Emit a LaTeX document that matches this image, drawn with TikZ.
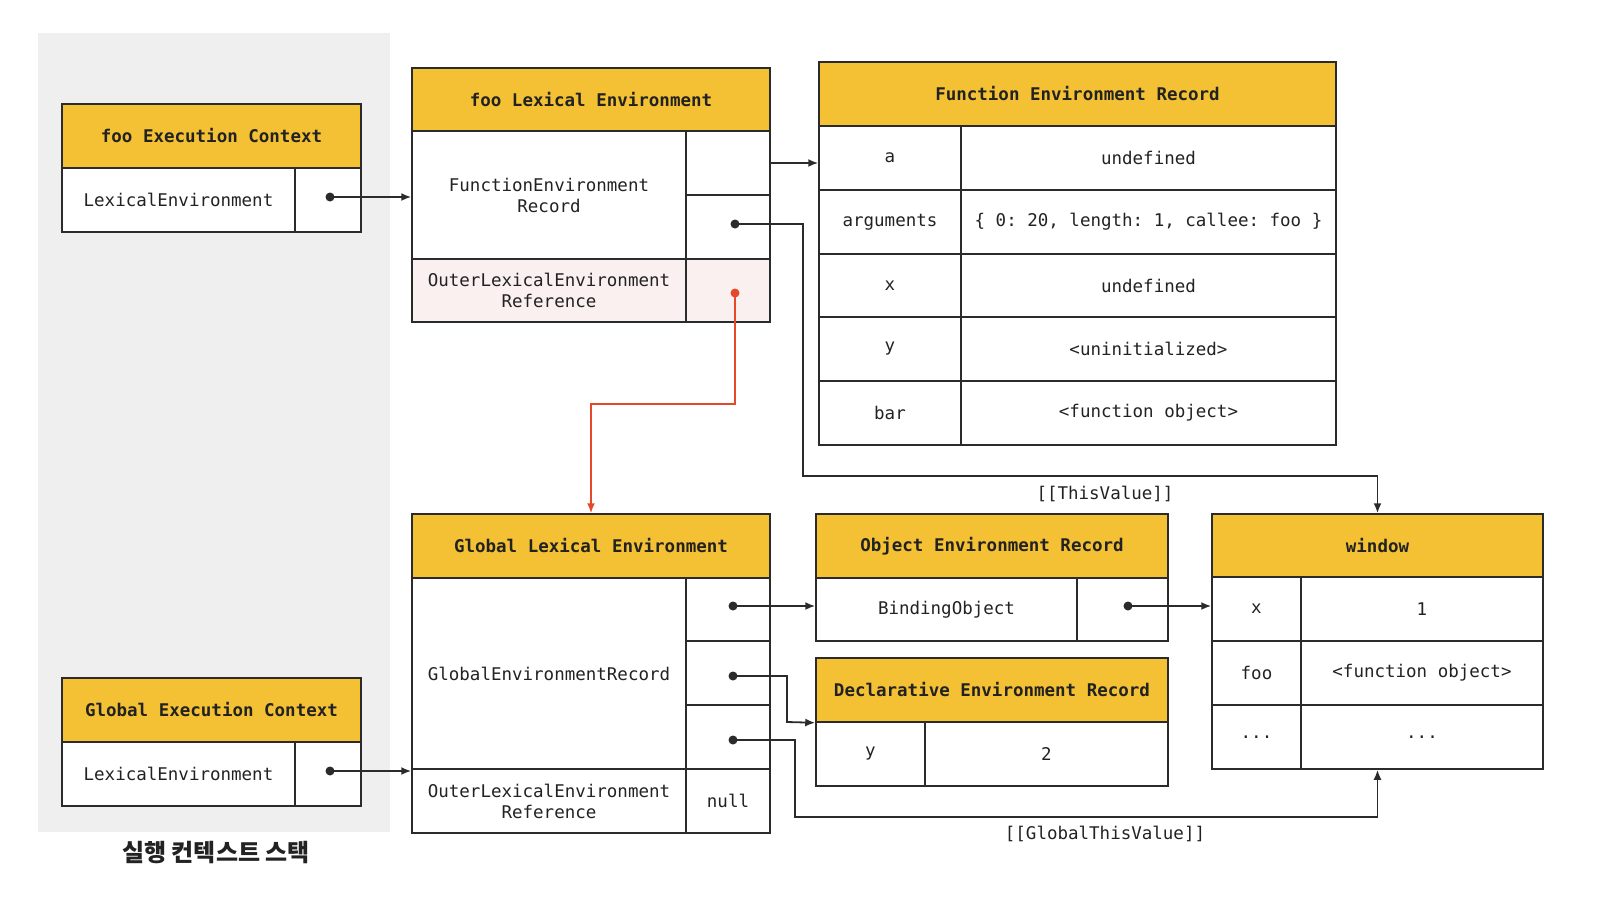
\documentclass[tikz,border=0pt]{standalone}
\usepackage{fontspec}
\setmonofont{DejaVu Sans Mono}
\newfontfamily\krfont{Noto Sans CJK KR}
\usetikzlibrary{arrows.meta}
\definecolor{hdr}{HTML}{F3C133}
\definecolor{ln}{HTML}{2B2B2B}
\definecolor{txt}{HTML}{222222}
\definecolor{bgg}{HTML}{EFEFEF}
\definecolor{pinkc}{HTML}{FAF0EF}
\definecolor{redl}{HTML}{E5482B}
\tikzset{
  cell/.style={draw=ln, line width=1.5pt, fill=white, rectangle, inner sep=0pt, align=center,
    text=txt, font=\ttfamily\fontsize{17.5}{21}\selectfont},
  hdrcell/.style={cell, fill=hdr, font=\ttfamily\bfseries\fontsize{17.5}{21}\selectfont},
  pinkcell/.style={cell, fill=pinkc},
  conn/.style={draw=ln, line width=1.8pt},
  arr/.style={conn, -{Latex[length=10pt,width=8pt]}},
  redarr/.style={draw=redl, line width=1.8pt, -{Latex[length=10pt,width=8pt]}},
  lbl/.style={text=txt, font=\ttfamily\fontsize{17.5}{21}\selectfont, inner sep=0pt}
}
\newcommand\cbox[7][]{\node[cell,#1,minimum width={#5-#3},minimum height={#6-#4}] (#2) at ({(#3+#5)/2},{(#4+#6)/2}) {#7};}
\begin{document}
\begin{tikzpicture}[x=1pt,y=-1pt]
\useasboundingbox (0,0) rectangle (1604,916);
\fill[bgg] (38,33) rectangle (390,832);
% foo Execution Context
\cbox[hdrcell]{fechdr}{62}{104}{361}{168}{foo Execution Context}
\cbox{fecle}{62}{168}{295}{232}{LexicalEnvironment}
\cbox{fecptr}{295}{168}{361}{232}{}
% Global Execution Context
\cbox[hdrcell]{gechdr}{62}{678}{361}{742}{Global Execution Context}
\cbox{gecle}{62}{742}{295}{806}{LexicalEnvironment}
\cbox{gecptr}{295}{742}{361}{806}{}
\node[text=txt, font=\krfont\bfseries\fontsize{24}{28}\selectfont, inner sep=0pt] (stack) at (216,853) {실행 컨텍스트 스택};
% foo Lexical Environment
\cbox[hdrcell]{flehdr}{412}{68}{770}{131}{foo Lexical Environment}
\cbox{flefer}{412}{131}{686}{259}{FunctionEnvironment\\Record}
\cbox{flea}{686}{131}{770}{195}{}
\cbox{fleb}{686}{195}{770}{259}{}
\cbox[pinkcell]{fleout}{412}{259}{686}{322}{OuterLexicalEnvironment\\Reference}
\cbox[pinkcell]{fleoutp}{686}{259}{770}{322}{}
% Function Environment Record
\cbox[hdrcell]{ferhdr}{819}{62}{1336}{126}{Function Environment Record}
\cbox{fera}{819}{126}{961}{190}{a}
\cbox{ferav}{961}{126}{1336}{190}{undefined}
\cbox{ferb}{819}{190}{961}{254}{arguments}
\cbox{ferbv}{961}{190}{1336}{254}{\{ 0: 20, length: 1, callee: foo \}}
\cbox{ferc}{819}{254}{961}{317}{x}
\cbox{fercv}{961}{254}{1336}{317}{undefined}
\cbox{ferd}{819}{317}{961}{381}{y}
\cbox{ferdv}{961}{317}{1336}{381}{<uninitialized>}
\cbox{fere}{819}{381}{961}{445}{bar}
\cbox{ferev}{961}{381}{1336}{445}{<function object>}
% Global Lexical Environment
\cbox[hdrcell]{glehdr}{412}{514}{770}{578}{Global Lexical Environment}
\cbox{gleger}{412}{578}{686}{769}{GlobalEnvironmentRecord}
\cbox{glea}{686}{578}{770}{641}{}
\cbox{gleb}{686}{641}{770}{705}{}
\cbox{glec}{686}{705}{770}{769}{}
\cbox{gleout}{412}{769}{686}{833}{OuterLexicalEnvironment\\Reference}
\cbox{glenull}{686}{769}{770}{833}{null}
% Object Environment Record
\cbox[hdrcell]{oerhdr}{816}{514}{1168}{578}{Object Environment Record}
\cbox{oerbind}{816}{578}{1077}{641}{BindingObject}
\cbox{oerptr}{1077}{578}{1168}{641}{}
% Declarative Environment Record
\cbox[hdrcell]{derhdr}{816}{658}{1168}{722}{Declarative Environment Record}
\cbox{dery}{816}{722}{925}{786}{y}
\cbox{deryv}{925}{722}{1168}{786}{2}
% window
\cbox[hdrcell]{winhdr}{1212}{514}{1543}{577}{window}
\cbox{winx}{1212}{577}{1301}{641}{x}
\cbox{winxv}{1301}{577}{1543}{641}{1}
\cbox{winf}{1212}{641}{1301}{705}{foo}
\cbox{winfv}{1301}{641}{1543}{705}{<function object>}
\cbox{wind}{1212}{705}{1301}{769}{...}
\cbox{windv}{1301}{705}{1543}{769}{...}
% labels
\node[lbl] (thisv) at (1105,494) {[[ThisValue]]};
\node[lbl] (gthisv) at (1105,834) {[[GlobalThisValue]]};
% dots
\coordinate (d1) at (330,197);
\coordinate (d2) at (330,771);
\coordinate (d3) at (735,224);
\coordinate (rd) at (735,293);
\coordinate (g1) at (733,606);
\coordinate (g2) at (733,676);
\coordinate (g3) at (733,740);
\coordinate (o1) at (1128,606);
\foreach \p in {d1,d2,d3,g1,g2,g3,o1} \fill[ln] (\p) circle (4.5);
\fill[redl] (rd) circle (4.5);
% connectors
\draw[arr] (d1) -- (d1 -| flefer.west);
\draw[arr] (d2) -- (d2 -| gleout.west);
\draw[arr] (flea.east |- 0,163) -- (fera.west |- 0,163);
\draw[arr] (d3) -- (803,224) -- (803,476) -| (winhdr.north);
\draw[redarr] (rd) -- (735,404) -| (glehdr.north);
\draw[arr] (g1) -- (g1 -| oerbind.west);
\draw[arr] (g2) -| (787,722) -- (derhdr.south west);
\draw[arr] (g3) -| (795,817) -| (windv.south west -| winhdr.north);
\draw[arr] (o1) -- (o1 -| winx.west);
\end{tikzpicture}
\end{document}
